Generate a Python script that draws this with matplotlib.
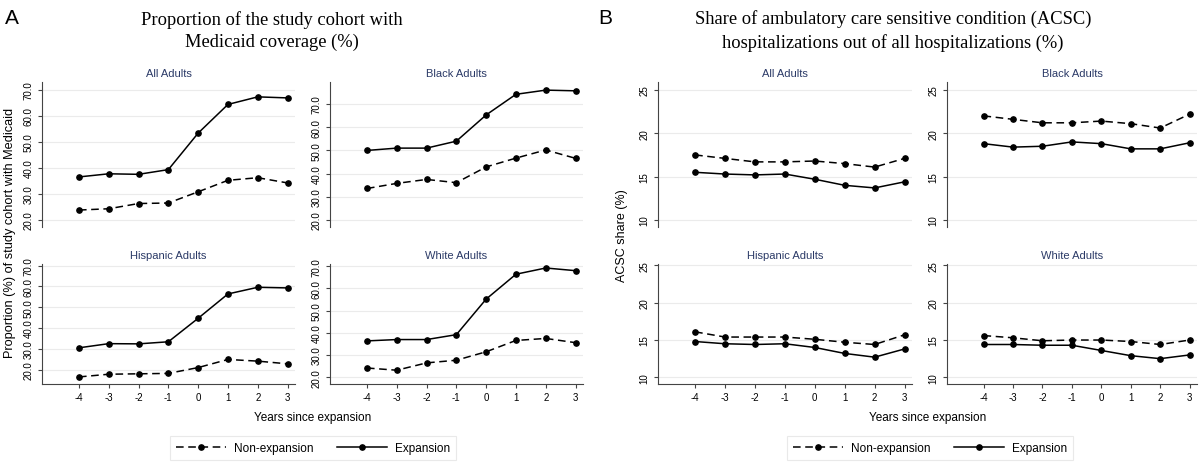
import matplotlib
matplotlib.use("Agg")
import matplotlib.pyplot as plt
from matplotlib.lines import Line2D

years = [-4, -3, -2, -1, 0, 1, 2, 3]
groups = ["All Adults", "Black Adults", "Hispanic Adults", "White Adults"]

# panel A: Medicaid coverage (%)
cov_exp = {
    "All Adults":      [36.5, 37.7, 37.5, 39.3, 53.3, 64.3, 67.2, 66.8],
    "Black Adults":    [50.0, 51.0, 51.0, 54.0, 65.3, 74.2, 76.0, 75.7],
    "Hispanic Adults": [30.5, 32.5, 32.4, 33.4, 44.7, 56.4, 59.6, 59.3],
    "White Adults":    [36.4, 37.0, 37.0, 39.2, 55.2, 66.4, 69.2, 68.0],
}
cov_non = {
    "All Adults":      [23.8, 24.3, 26.3, 26.5, 30.8, 35.2, 36.2, 34.2],
    "Black Adults":    [33.6, 35.8, 37.5, 36.1, 42.9, 46.7, 50.2, 46.6],
    "Hispanic Adults": [16.5, 17.8, 18.0, 18.2, 21.0, 24.9, 24.1, 22.8],
    "White Adults":    [24.2, 23.2, 26.5, 27.7, 31.5, 36.6, 37.5, 35.6],
}
# panel B: ACSC share (%)
acsc_exp = {
    "All Adults":      [15.5, 15.3, 15.2, 15.3, 14.7, 14.0, 13.7, 14.4],
    "Black Adults":    [18.8, 18.4, 18.5, 19.0, 18.8, 18.2, 18.2, 18.9],
    "Hispanic Adults": [14.8, 14.5, 14.4, 14.5, 14.0, 13.2, 12.7, 13.8],
    "White Adults":    [14.4, 14.4, 14.3, 14.3, 13.6, 12.9, 12.5, 13.0],
}
acsc_non = {
    "All Adults":      [17.5, 17.1, 16.7, 16.7, 16.8, 16.5, 16.1, 17.1],
    "Black Adults":    [22.0, 21.6, 21.2, 21.2, 21.4, 21.1, 20.6, 22.2],
    "Hispanic Adults": [16.1, 15.4, 15.4, 15.4, 15.1, 14.7, 14.4, 15.7],
    "White Adults":    [15.6, 15.3, 14.9, 15.0, 15.0, 14.8, 14.4, 15.0],
}

cov_ticks = [20, 30, 40, 50, 60, 70]
acsc_ticks = [10, 15, 20, 25]

W, H = 1200, 464
fig = plt.figure(figsize=(W / 100, H / 100), dpi=100)
plt.rcParams['font.family'] = ['Liberation Sans', 'DejaVu Sans']
navy = "#2b3a67"
dash = (0, (5, 3))


def add_ax(x0, x1, ytop, ybot):
    return fig.add_axes([x0 / W, 1 - ybot / H, (x1 - x0) / W, (ybot - ytop) / H])


def draw(ax, name, exp, non, ticks, ylim, fmt, bottom):
    ax.plot(years, non, color="black", lw=1.1, ls=dash, marker="o", ms=3.8)
    ax.plot(years, exp, color="black", lw=1.1, marker="o", ms=3.8)
    ax.set_xlim(-5.24, 3.25)
    ax.set_ylim(*ylim)
    ax.set_yticks(ticks)
    ax.set_yticklabels([fmt % t for t in ticks], rotation=90, va="center", fontsize=7)
    ax.yaxis.grid(True, color="#ebebeb", lw=0.8)
    ax.set_axisbelow(True)
    ax.set_title(name, fontsize=8, color=navy, pad=4)
    for s in ["top", "right"]:
        ax.spines[s].set_visible(False)
    ax.spines["left"].set_color("#444444")
    ax.tick_params(axis="y", length=3, color="#444444", pad=3)
    if bottom:
        ax.set_xticks(years)
        ax.set_xticklabels([str(y) for y in years], fontsize=7)
        ax.spines["bottom"].set_color("#444444")
        ax.tick_params(axis="x", length=3, color="#444444", pad=3)
    else:
        ax.spines["bottom"].set_visible(False)
        ax.set_xticks([])


# positions in pixels: (x0, x1) for columns, (ytop, ybot) for rows
rows = [(83, 228), (265, 385)]
colsA = [(42, 295), (330, 583)]
colsB = [(658, 912), (947, 1197)]

ylimA = {"All Adults": (17.3, 72.9), "Black Adults": (17, 79.5),
         "Hispanic Adults": (13.1, 70.8), "White Adults": (17, 71)}
ylimB = [(9.2, 25.9), (9.2, 25.9), (9.1, 25.2), (9.1, 25.2)]

for i, g in enumerate(groups):
    r, c = divmod(i, 2)
    axA = add_ax(colsA[c][0], colsA[c][1], rows[r][0], rows[r][1])
    draw(axA, g, cov_exp[g], cov_non[g], cov_ticks, ylimA[g], "%.1f", r == 1)
    axB = add_ax(colsB[c][0], colsB[c][1], rows[r][0], rows[r][1])
    draw(axB, g, acsc_exp[g], acsc_non[g], acsc_ticks, ylimB[i], "%d", r == 1)

# panel letters and titles
fig.text(5 / W, 1 - 18 / H, "A", fontsize=15, va="center", ha="left")
fig.text(598 / W, 1 - 18 / H, "B", fontsize=15, va="center", ha="left")
fig.text(272 / W, 1 - 31 / H, "Proportion of the study cohort with\nMedicaid coverage (%)",
         family="Liberation Serif", fontsize=13.3, ha="center", va="center", linespacing=1.4)
fig.text(893 / W, 1 - 31 / H,
         "Share of ambulatory care sensitive condition (ACSC)\nhospitalizations out of all hospitalizations (%)",
         family="Liberation Serif", fontsize=13.3, ha="center", va="center", linespacing=1.4)

# axis labels
fig.text(10 / W, 1 - 233 / H, "Proportion (%) of study cohort with Medicaid",
         rotation=90, fontsize=9.2, ha="center", va="center")
fig.text(622 / W, 1 - 236 / H, "ACSC share (%)", rotation=90, fontsize=9, ha="center", va="center")
fig.text(313 / W, 1 - 418 / H, "Years since expansion", fontsize=8.5, ha="center", va="center")
fig.text(928 / W, 1 - 418 / H, "Years since expansion", fontsize=8.5, ha="center", va="center")

# legends
handles = [Line2D([], [], color="black", lw=1.1, ls=dash, marker="o", ms=3.8),
           Line2D([], [], color="black", lw=1.1, marker="o", ms=3.8)]
labels = ["Non-expansion", "Expansion"]
for cx in [313, 930]:
    leg = fig.legend(handles, labels, loc="center", bbox_to_anchor=(cx / W, 1 - 449 / H),
                     ncol=2, fontsize=8.5, frameon=True, fancybox=False, handlelength=4.2,
                     columnspacing=2.0, handletextpad=0.7, borderpad=0.55)
    leg.get_frame().set_edgecolor("#e4e4e4")
    leg.get_frame().set_linewidth(0.8)

fig.savefig("out.png", dpi=100, facecolor="white")
